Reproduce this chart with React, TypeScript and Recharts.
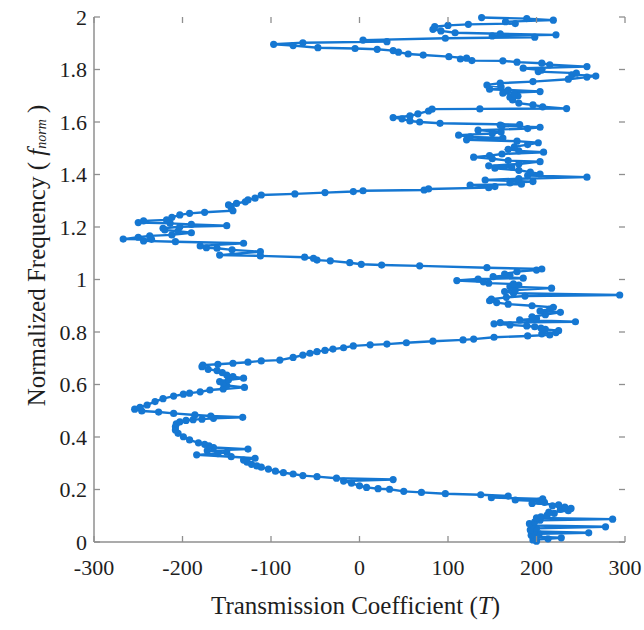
import { Scatter, ScatterChart, XAxis, YAxis } from "recharts";

// normalized frequency (y) and transmission coefficient T (x), frequency order
const freqNorm = [
  0.003, 0.008, 0.012, 0.016, 0.02, 0.026, 0.031, 0.035, 0.04, 0.046, 0.052, 0.058, 0.063, 0.07, 0.077, 0.083,
  0.087, 0.092, 0.096, 0.102, 0.109, 0.114, 0.119, 0.124, 0.128, 0.133, 0.138, 0.142, 0.147, 0.151, 0.156, 0.16,
  0.164, 0.169, 0.175, 0.18, 0.184, 0.189, 0.193, 0.201, 0.203, 0.208, 0.214, 0.224, 0.232, 0.238, 0.243, 0.249,
  0.253, 0.259, 0.264, 0.27, 0.278, 0.285, 0.29, 0.296, 0.304, 0.312, 0.319, 0.325, 0.332, 0.337, 0.342, 0.348,
  0.354, 0.36, 0.366, 0.372, 0.378, 0.389, 0.401, 0.414, 0.427, 0.439, 0.45, 0.458, 0.463, 0.466, 0.468, 0.471,
  0.475, 0.48, 0.484, 0.49, 0.495, 0.499, 0.506, 0.513, 0.522, 0.535, 0.546, 0.556, 0.563, 0.567, 0.572, 0.579,
  0.583, 0.589, 0.596, 0.605, 0.611, 0.618, 0.624, 0.63, 0.636, 0.645, 0.653, 0.658, 0.668, 0.674, 0.677, 0.681,
  0.685, 0.69, 0.693, 0.703, 0.712, 0.719, 0.725, 0.73, 0.735, 0.74, 0.747, 0.751, 0.754, 0.759, 0.765, 0.77,
  0.773, 0.78, 0.785, 0.789, 0.793, 0.798, 0.805, 0.81, 0.815, 0.82, 0.823, 0.827, 0.831, 0.836, 0.839, 0.846,
  0.851, 0.858, 0.866, 0.875, 0.88, 0.887, 0.894, 0.9, 0.906, 0.912, 0.919, 0.925, 0.932, 0.937, 0.941, 0.948,
  0.954, 0.96, 0.967, 0.973, 0.979, 0.983, 0.986, 0.991, 0.996, 1.002, 1.005, 1.011, 1.016, 1.021, 1.03, 1.036,
  1.04, 1.045, 1.052, 1.055, 1.058, 1.064, 1.071, 1.074, 1.081, 1.085, 1.09, 1.093, 1.106, 1.113, 1.119, 1.121,
  1.128, 1.138, 1.144, 1.147, 1.153, 1.154, 1.161, 1.166, 1.17, 1.178, 1.184, 1.189, 1.195, 1.201, 1.205, 1.21,
  1.214, 1.217, 1.223, 1.227, 1.237, 1.246, 1.252, 1.256, 1.262, 1.274, 1.284, 1.29, 1.296, 1.303, 1.31, 1.322,
  1.326, 1.331, 1.335, 1.338, 1.341, 1.345, 1.35, 1.354, 1.36, 1.363, 1.368, 1.373, 1.379, 1.384, 1.39, 1.396,
  1.402, 1.409, 1.416, 1.424, 1.428, 1.433, 1.44, 1.449, 1.453, 1.46, 1.466, 1.472, 1.478, 1.485, 1.49, 1.496,
  1.505, 1.514, 1.521, 1.527, 1.532, 1.539, 1.543, 1.55, 1.556, 1.562, 1.569, 1.575, 1.58, 1.585, 1.588, 1.59,
  1.595, 1.6, 1.604, 1.612, 1.617, 1.623, 1.631, 1.642, 1.649, 1.65, 1.651, 1.658, 1.665, 1.672, 1.684, 1.694,
  1.699, 1.705, 1.71, 1.716, 1.722, 1.725, 1.733, 1.741, 1.748, 1.754, 1.763, 1.771, 1.775, 1.78, 1.786, 1.792,
  1.798, 1.805, 1.811, 1.818, 1.824, 1.828, 1.833, 1.834, 1.84, 1.843, 1.849, 1.855, 1.859, 1.866, 1.872, 1.877,
  1.88, 1.883, 1.891, 1.896, 1.902, 1.906, 1.912, 1.919, 1.923, 1.928, 1.932, 1.936, 1.94, 1.947, 1.953, 1.963,
  1.968, 1.972, 1.975, 1.982, 1.988, 1.994, 1.998,
];

const transCoef = [
  200, 196, 213, 228, 200, 194, 203, 259, 197, 193, 200, 278, 195, 192, 198, 204,
  286, 200, 205, 212, 220, 214, 236, 227, 239, 232, 218, 225, 195, 209, 203, 176,
  207, 149, 168, 137, 97, 70, 50, 34, 21, 8, 0, -9, -18, 38, -26, -48,
  -64, -75, -86, -95, -103, -111, -116, -122, -127, -131, -118, -145, -184, -160, -150, -172,
  -126, -165, -170, -175, -182, -192, -199, -205, -208, -208, -207, -203, -196, -188, -178, -165,
  -132, -168, -186, -210, -227, -246, -254, -248, -240, -231, -222, -210, -199, -192, -180, -169,
  -154, -130, -150, -154, -158, -148, -131, -143, -150, -155, -161, -171, -178, -177, -160, -143,
  -126, -111, -90, -75, -64, -56, -48, -39, -30, -18, -7, 12, 31, 53, 83, 117,
  129, 152, 190, 215, 206, 222, 225, 210, 205, 198, 189, 170, 152, 159, 244, 181,
  200, 195, 210, 227, 204, 215, 219, 195, 168, 155, 147, 149, 166, 187, 294, 174,
  164, 176, 217, 170, 180, 174, 146, 140, 110, 134, 185, 151, 170, 164, 178, 200,
  206, 144, 68, 25, 2, -11, -33, -48, -52, -62, -112, -158, -112, -144, -161, -173,
  -180, -131, -208, -244, -235, -267, -250, -237, -212, -190, -205, -220, -222, -203, -150, -190,
  -214, -250, -244, -218, -212, -203, -192, -175, -143, -145, -148, -139, -129, -126, -118, -111,
  -73, -39, -7, 4, 73, 78, 146, 153, 125, 183, 170, 196, 142, 180, 257, 190,
  204, 193, 180, 153, 172, 146, 180, 204, 168, 150, 129, 147, 161, 208, 180, 168,
  175, 190, 202, 178, 121, 162, 125, 112, 150, 160, 134, 190, 204, 161, 159, 181,
  91, 68, 57, 48, 38, 57, 66, 78, 82, 136, 234, 207, 196, 180, 173, 170,
  179, 175, 162, 204, 168, 147, 160, 144, 159, 196, 236, 257, 267, 240, 245, 202,
  206, 185, 257, 215, 206, 178, 162, 127, 114, 121, 101, 72, 55, 44, 38, 20,
  -5, -47, -75, -97, -64, 31, 4, 97, 198, 150, 222, 159, 108, 92, 83, 85,
  100, 123, 176, 165, 219, 189, 138,
];

const xTicks = [-300, -200, -100, 0, 100, 200, 300];
const yTicks = [0, 0.2, 0.4, 0.6, 0.8, 1, 1.2, 1.4, 1.6, 1.8, 2];

const points = freqNorm.map((f, i) => ({ f, t: transCoef[i] }));

const SERIF = '"Liberation Serif", "Times New Roman", serif';
const BLUE = "#1577d2";
const AXIS = "#8f8f8f";
const INK = "#1e1e1e";

const W = 644;
const H = 630;
const MARGIN = { top: 17, right: 19, bottom: 48, left: 34 };
const X_AXIS_H = 40;
const Y_AXIS_W = 60;
const PLOT_W = W - MARGIN.left - MARGIN.right - Y_AXIS_W;
const PLOT_H = H - MARGIN.top - MARGIN.bottom - X_AXIS_H;
const TICK = 6;

const Dot = (props: any) => <circle cx={props.cx} cy={props.cy} r={3.6} fill={BLUE} />;
const NoDot = () => <g />;

// MATLAB-style: inward ticks on bottom and top, label under the bottom axis
function XTick({ x, y, payload }: any) {
  const top = y - PLOT_H;
  return (
    <g>
      <line x1={x} y1={y} x2={x} y2={y - TICK} stroke={AXIS} strokeWidth={1.3} />
      <line x1={x} y1={top} x2={x} y2={top + TICK} stroke={AXIS} strokeWidth={1.3} />
      <text x={x} y={y + 33} textAnchor="middle" fontFamily={SERIF} fontSize={22} fill={INK}>
        {payload.value}
      </text>
    </g>
  );
}

function YTick({ x, y, payload }: any) {
  const right = x + PLOT_W;
  return (
    <g>
      <line x1={x} y1={y} x2={x + TICK} y2={y} stroke={AXIS} strokeWidth={1.3} />
      <line x1={right} y1={y} x2={right - TICK} y2={y} stroke={AXIS} strokeWidth={1.3} />
      <text x={x - 7} y={y + 7.5} textAnchor="end" fontFamily={SERIF} fontSize={22} fill={INK}>
        {payload.value}
      </text>
    </g>
  );
}

function XTitle({ viewBox }: any) {
  const cx = viewBox.x + viewBox.width / 2 - 4;
  return (
    <text x={cx} y={614} textAnchor="middle" fontFamily={SERIF} fontSize={25} fill={INK}>
      Transmission Coefficient (<tspan fontStyle="italic">T</tspan>)
    </text>
  );
}

function YTitle({ viewBox }: any) {
  const cx = 36;
  const cy = viewBox.y + viewBox.height / 2 - 24;
  return (
    <text
      x={cx}
      y={cy}
      transform={`rotate(-90 ${cx} ${cy})`}
      textAnchor="middle"
      dominantBaseline="central"
      fontFamily={SERIF}
      fontSize={25}
      fill={INK}
    >
      Normalized Frequency (
      <tspan fontStyle="italic"> f</tspan>
      <tspan fontStyle="italic" fontSize={14} dy={5}>norm</tspan>
      <tspan dy={-5}> )</tspan>
    </text>
  );
}

export default function App() {
  return (
    <div style={{ position: "absolute", left: 0, top: 0, width: W, height: H, background: "#fff" }}>
      <ScatterChart width={W} height={H} margin={MARGIN}>
        <XAxis
          xAxisId="b"
          type="number"
          dataKey="t"
          domain={[-300, 300]}
          ticks={xTicks}
          interval={0}
          height={X_AXIS_H}
          stroke={AXIS}
          strokeWidth={1.5}
          tickLine={false}
          tickSize={0}
          tickMargin={0}
          tick={<XTick />}
          label={<XTitle />}
        />
        <XAxis
          xAxisId="top"
          orientation="top"
          type="number"
          dataKey="t"
          domain={[-300, 300]}
          ticks={xTicks}
          height={0}
          stroke={AXIS}
          strokeWidth={1.5}
          tickLine={false}
          tick={false}
        />
        <YAxis
          yAxisId="l"
          type="number"
          dataKey="f"
          domain={[0, 2]}
          ticks={yTicks}
          interval={0}
          width={Y_AXIS_W}
          stroke={AXIS}
          strokeWidth={1.5}
          tickLine={false}
          tickSize={0}
          tickMargin={0}
          tick={<YTick />}
          label={<YTitle />}
        />
        <YAxis
          yAxisId="r"
          orientation="right"
          type="number"
          dataKey="f"
          domain={[0, 2]}
          ticks={yTicks}
          width={0}
          stroke={AXIS}
          strokeWidth={1.5}
          tickLine={false}
          tick={false}
        />
        <Scatter xAxisId="top" yAxisId="r" data={points} shape={NoDot} isAnimationActive={false} />
        <Scatter
          xAxisId="b"
          yAxisId="l"
          data={points}
          line={{ stroke: BLUE, strokeWidth: 2.4 }}
          lineJointType="linear"
          shape={Dot}
          isAnimationActive={false}
        />
      </ScatterChart>
    </div>
  );
}
